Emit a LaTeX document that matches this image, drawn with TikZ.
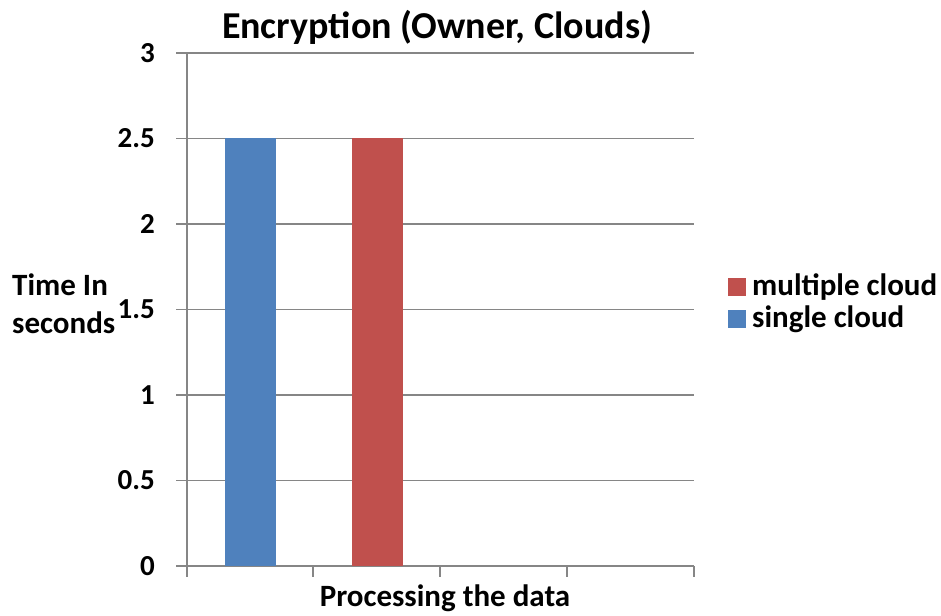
\documentclass[tikz,border=0pt]{standalone}
\usepackage{fontspec}
\setmainfont{Carlito}
\definecolor{barblue}{RGB}{79,129,189}
\definecolor{barred}{RGB}{192,80,77}
\definecolor{gridc}{RGB}{134,134,134}
\begin{document}
\begin{tikzpicture}[x=1pt,y=-1pt,
  grid/.style={draw=gridc,line width=1.3pt},
  ticklab/.style={anchor=east,font=\bfseries\fontsize{29}{32}\selectfont,inner sep=0pt},
  lab/.style={font=\bfseries\fontsize{31}{38}\selectfont,inner sep=0pt},
  bar/.style={draw=none}]
\useasboundingbox (0,0) rectangle (941,615);
\fill[white] (0,0) rectangle (941,615);
% gridlines
\foreach \v/\n in {0/0,0.5/0.5,1/1,1.5/1.5,2/2,2.5/2.5,3/3}{
  \pgfmathsetmacro{\yy}{566-171*\v}
  \draw[grid] (176,\yy) -- (694,\yy);
  \node[ticklab] (t\v) at (155,\yy) {\n};
}
% axes
\draw[grid] (187,53) -- (187,566);
\foreach \xx in {187,313,440,567,694}{\draw[grid] (\xx,566) -- (\xx,577);}
% bars
\fill[barblue] (225,138) rectangle (276,566);
\fill[barred] (352,138) rectangle (403,566);
% title
\node[font=\bfseries\fontsize{38}{42}\selectfont,inner sep=0pt] (title) at (437,27) {Encryption (Owner, Clouds)};
\node[lab] (xlab) at (445,598) {Processing the data};
\node[lab,anchor=west,align=left] (ylab) at (12,304) {Time In\\seconds};
% legend
\fill[barred] (728,278) rectangle (746,296);
\node[lab,anchor=west] (l1) at (752,287) {multiple cloud};
\fill[barblue] (728,310) rectangle (746,328);
\node[lab,anchor=west] (l2) at (752,319) {single cloud};
\end{tikzpicture}
\end{document}
